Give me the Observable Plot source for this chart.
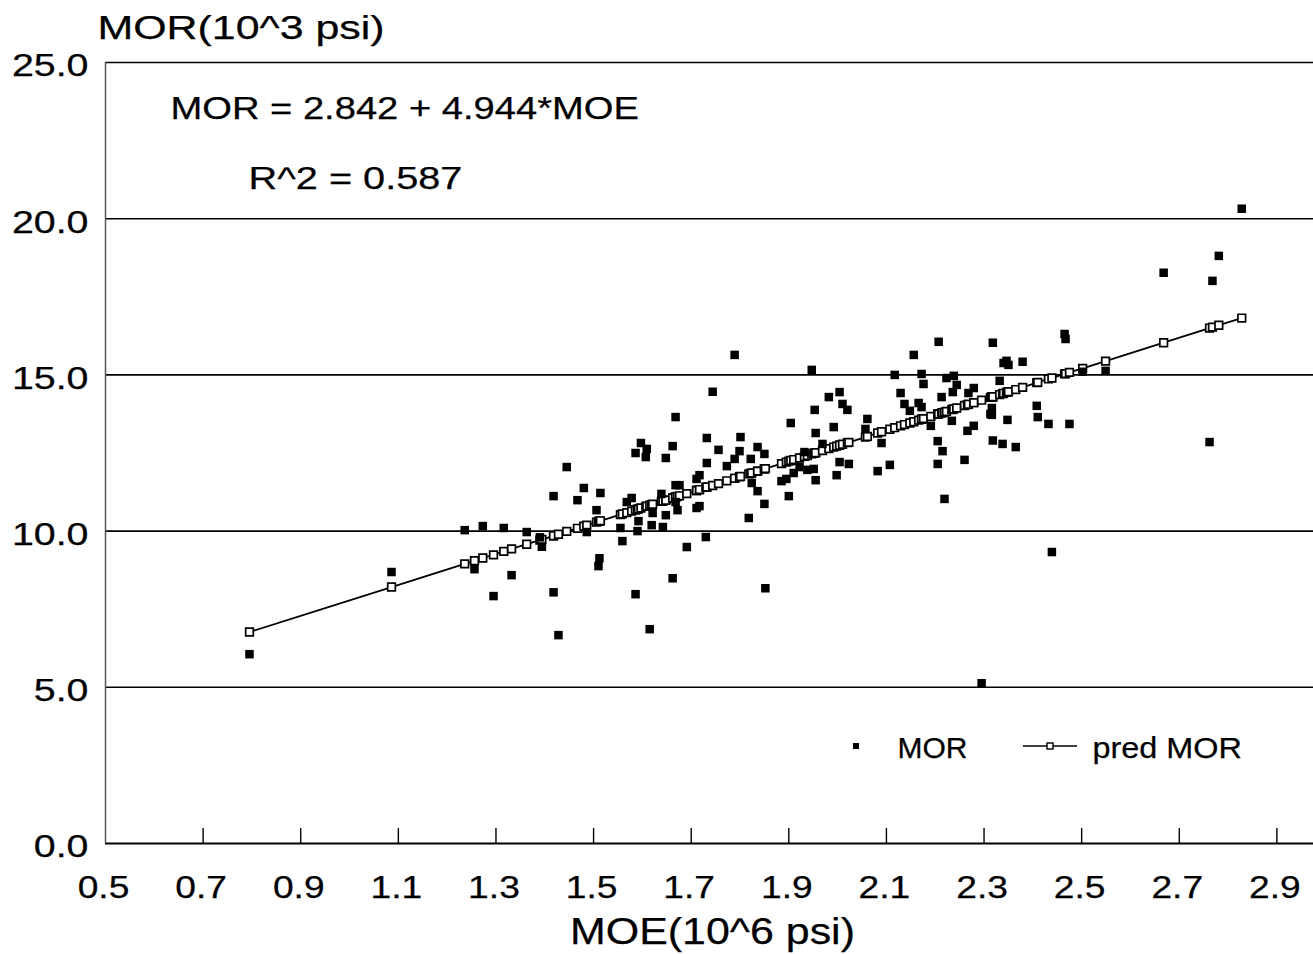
<!DOCTYPE html>
<html><head><meta charset="utf-8">
<script src="https://cdn.jsdelivr.net/npm/d3@7"></script>
<script src="https://cdn.jsdelivr.net/npm/@observablehq/plot@0.6"></script>
<style>
body{margin:0;background:#fff;}
#chart svg{display:block;}
#chart svg text{stroke:#000;stroke-width:0.25px;}
</style></head><body><div id="chart"></div>
<script>
// Observations: MOE (10^6 psi), MOR (10^3 psi), predicted MOR (regression line values)
const moe = [0.795,1.086,1.236,1.256,1.273,1.295,1.316,1.332,1.363,1.390,1.394,1.418,1.418,1.428,1.445,1.467,1.480,1.486,1.506,1.510,1.512,1.514,1.555,1.559,1.568,1.578,1.586,1.586,1.590,1.592,1.597,1.607,1.609,1.615,1.619,1.621,1.639,1.642,1.648,1.648,1.662,1.662,1.668,1.668,1.668,1.672,1.676,1.691,1.711,1.711,1.717,1.717,1.730,1.732,1.732,1.744,1.756,1.773,1.789,1.789,1.799,1.801,1.818,1.822,1.824,1.836,1.836,1.850,1.850,1.852,1.885,1.895,1.900,1.904,1.910,1.922,1.932,1.938,1.947,1.951,1.953,1.955,1.955,1.969,1.982,1.992,1.998,2.004,2.004,2.010,2.020,2.023,2.057,2.061,2.082,2.090,2.107,2.117,2.129,2.137,2.148,2.156,2.166,2.172,2.172,2.176,2.191,2.205,2.205,2.207,2.213,2.215,2.219,2.223,2.234,2.236,2.238,2.244,2.260,2.266,2.268,2.279,2.279,2.295,2.313,2.316,2.316,2.318,2.318,2.332,2.338,2.340,2.346,2.348,2.350,2.365,2.379,2.408,2.410,2.432,2.439,2.465,2.467,2.475,2.502,2.549,2.668,2.762,2.768,2.781,2.828];
const mor = [6.06,8.69,10.03,8.78,10.16,7.92,10.10,8.59,9.97,9.80,9.50,11.12,8.04,6.67,12.05,10.99,11.38,9.97,10.67,8.88,9.13,11.22,10.10,9.68,10.93,11.06,7.98,12.50,10.00,10.32,12.82,12.37,12.63,6.86,10.19,10.58,11.19,10.13,12.34,10.51,12.72,8.49,13.65,10.93,11.47,10.67,11.47,9.49,10.74,11.67,11.79,10.80,9.81,12.98,12.18,14.46,12.60,12.08,15.64,12.31,12.56,13.01,10.42,12.31,11.54,12.69,11.28,12.47,10.87,8.17,11.60,11.67,11.12,13.46,11.86,12.05,12.53,11.96,15.16,11.99,13.88,13.14,11.63,12.79,14.29,13.33,11.79,14.45,12.21,14.07,13.88,12.15,13.27,13.59,11.92,12.82,12.12,15.00,14.42,14.07,13.85,15.64,14.10,15.03,13.97,14.71,13.37,12.88,12.15,16.06,14.29,12.56,11.03,14.90,13.53,14.45,14.97,14.68,12.28,13.21,14.42,14.58,13.37,5.13,13.75,13.72,13.94,16.03,12.90,14.81,12.79,15.38,15.45,13.56,15.32,12.69,15.42,14.01,13.65,13.43,9.33,16.31,16.15,13.43,15.10,15.13,18.27,12.85,18.01,18.81,20.32];
const predMor = [6.77,8.21,8.95,9.05,9.14,9.24,9.35,9.43,9.58,9.71,9.73,9.85,9.85,9.90,9.99,10.09,10.16,10.19,10.29,10.31,10.32,10.33,10.53,10.55,10.59,10.64,10.68,10.68,10.70,10.71,10.74,10.79,10.80,10.83,10.85,10.86,10.95,10.96,10.99,10.99,11.06,11.06,11.09,11.09,11.09,11.11,11.13,11.20,11.30,11.30,11.33,11.33,11.40,11.41,11.41,11.46,11.52,11.61,11.69,11.69,11.74,11.75,11.83,11.85,11.86,11.92,11.92,11.99,11.99,12.00,12.16,12.21,12.24,12.26,12.29,12.34,12.39,12.42,12.47,12.49,12.50,12.51,12.51,12.58,12.64,12.69,12.72,12.75,12.75,12.78,12.83,12.84,13.01,13.03,13.14,13.18,13.26,13.31,13.37,13.41,13.46,13.50,13.55,13.58,13.58,13.60,13.67,13.74,13.74,13.75,13.78,13.79,13.81,13.83,13.89,13.90,13.91,13.94,14.02,14.05,14.06,14.11,14.11,14.19,14.28,14.29,14.29,14.30,14.30,14.37,14.40,14.41,14.44,14.45,14.46,14.53,14.60,14.75,14.76,14.87,14.90,15.03,15.04,15.08,15.21,15.44,16.03,16.50,16.53,16.59,16.82];

const xTicks = [0.5,0.7,0.9,1.1,1.3,1.5,1.7,1.9,2.1,2.3,2.5,2.7,2.9];
const yTicks = [0,5,10,15,20,25];
const gridLines = [5,10,15,20,25];
const xDomain = [0.5, 2.975];
const yDomain = [0, 25];
const titleText = "MOR(10^3 psi)";
const xLabelText = "MOE(10^6 psi)";
const equationText = "MOR = 2.842 + 4.944*MOE";
const r2Text = "R^2 = 0.587";
const legendObs = "MOR";
const legendPred = "pred MOR";

const obs = moe.map((x, i) => ({moe: x, mor: mor[i]}));
const pred = moe.map((x, i) => ({moe: x, pred: predMor[i]})).sort((a, b) => a.moe - b.moe);
const font = '"Liberation Sans", Arial, Helvetica, sans-serif';
const fmt = d3.format(".1f");

const plot = Plot.plot({
  width: 1313, height: 954,
  marginLeft: 105, marginRight: 0, marginTop: 62, marginBottom: 111,
  style: {fontFamily: font, background: "#fff", color: "#000", overflow: "visible"},
  x: {domain: xDomain},
  y: {domain: yDomain},
  marks: [
    Plot.ruleY(gridLines, {stroke: "#000", strokeWidth: 1.6}),
    Plot.ruleY([0], {stroke: "#000", strokeWidth: 2}),
    Plot.ruleX([xDomain[0]], {stroke: "#555", strokeWidth: 1.5}),
    Plot.tickX(xTicks.slice(1), {x: d => d, insetTop: 766, stroke: "#000", strokeWidth: 1.4}),
    Plot.axisX({ticks: xTicks, tickSize: 0, tickPadding: 32, tickFormat: fmt, fontSize: 31, label: null, dx: -2}),
    Plot.axisY({ticks: yTicks, tickSize: 0, tickPadding: 17, tickFormat: fmt, fontSize: 31, label: null, dy: 4}),
    Plot.line(pred, {x: "moe", y: "pred", stroke: "#000", strokeWidth: 1.8}),
    Plot.dot(pred, {x: "moe", y: "pred", symbol: "square", r: 4.3, fill: "#fff", stroke: "#000", strokeWidth: 1.7}),
    Plot.dot(obs, {x: "moe", y: "mor", symbol: "square", r: 4.8, fill: "#000"}),
    Plot.text([titleText], {text: d => d, frameAnchor: "top-left", textAnchor: "start", lineAnchor: "bottom", dx: -8, dy: -24, fontSize: 33}),
    Plot.text([equationText], {text: d => d, frameAnchor: "top-left", textAnchor: "start", lineAnchor: "bottom", dx: 65, dy: 56, fontSize: 31}),
    Plot.text([r2Text], {text: d => d, frameAnchor: "top-left", textAnchor: "start", lineAnchor: "bottom", dx: 143, dy: 126, fontSize: 31}),
    Plot.text([xLabelText], {text: d => d, frameAnchor: "bottom", textAnchor: "middle", lineAnchor: "bottom", dx: 3, dy: 100, fontSize: 37}),
    Plot.text([legendObs], {text: d => d, frameAnchor: "bottom-left", textAnchor: "start", lineAnchor: "bottom", dx: 792, dy: -86, fontSize: 30}),
    Plot.text([legendPred], {text: d => d, frameAnchor: "bottom-left", textAnchor: "start", lineAnchor: "bottom", dx: 987, dy: -86, fontSize: 30})
  ]
});

document.getElementById("chart").appendChild(plot);

// horizontally stretch text glyphs (the original uses a wide sans face)
function stretch(el, sx) {
  const w = el.getComputedTextLength();
  if (w > 0) {
    el.setAttribute("lengthAdjust", "spacingAndGlyphs");
    el.setAttribute("textLength", (w * sx).toFixed(1));
  }
}
const svg = d3.select(plot);
svg.selectAll('g[aria-label="x-axis tick label"] text').each(function() { stretch(this, 1.2); });
svg.selectAll('g[aria-label="y-axis tick label"] text').each(function() { stretch(this, 1.27); });
const stretchMap = new Map([[titleText, 1.3], [equationText, 1.23], [r2Text, 1.28], [xLabelText, 1.16], [legendObs, 1.0], [legendPred, 1.08]]);
svg.selectAll("text").each(function() {
  const s = stretchMap.get(this.textContent);
  if (s) stretch(this, s);
});

// legend glyphs
const lg = svg.append("g").attr("aria-label", "legend glyphs");
lg.append("rect").attr("x", 853).attr("y", 743).attr("width", 6).attr("height", 6).attr("fill", "#000");
lg.append("line").attr("x1", 1023).attr("x2", 1077).attr("y1", 746).attr("y2", 746).attr("stroke", "#000").attr("stroke-width", 1.6);
lg.append("rect").attr("x", 1047).attr("y", 743).attr("width", 6).attr("height", 6).attr("fill", "#fff").attr("stroke", "#000").attr("stroke-width", 1.4);
</script>
</body></html>
